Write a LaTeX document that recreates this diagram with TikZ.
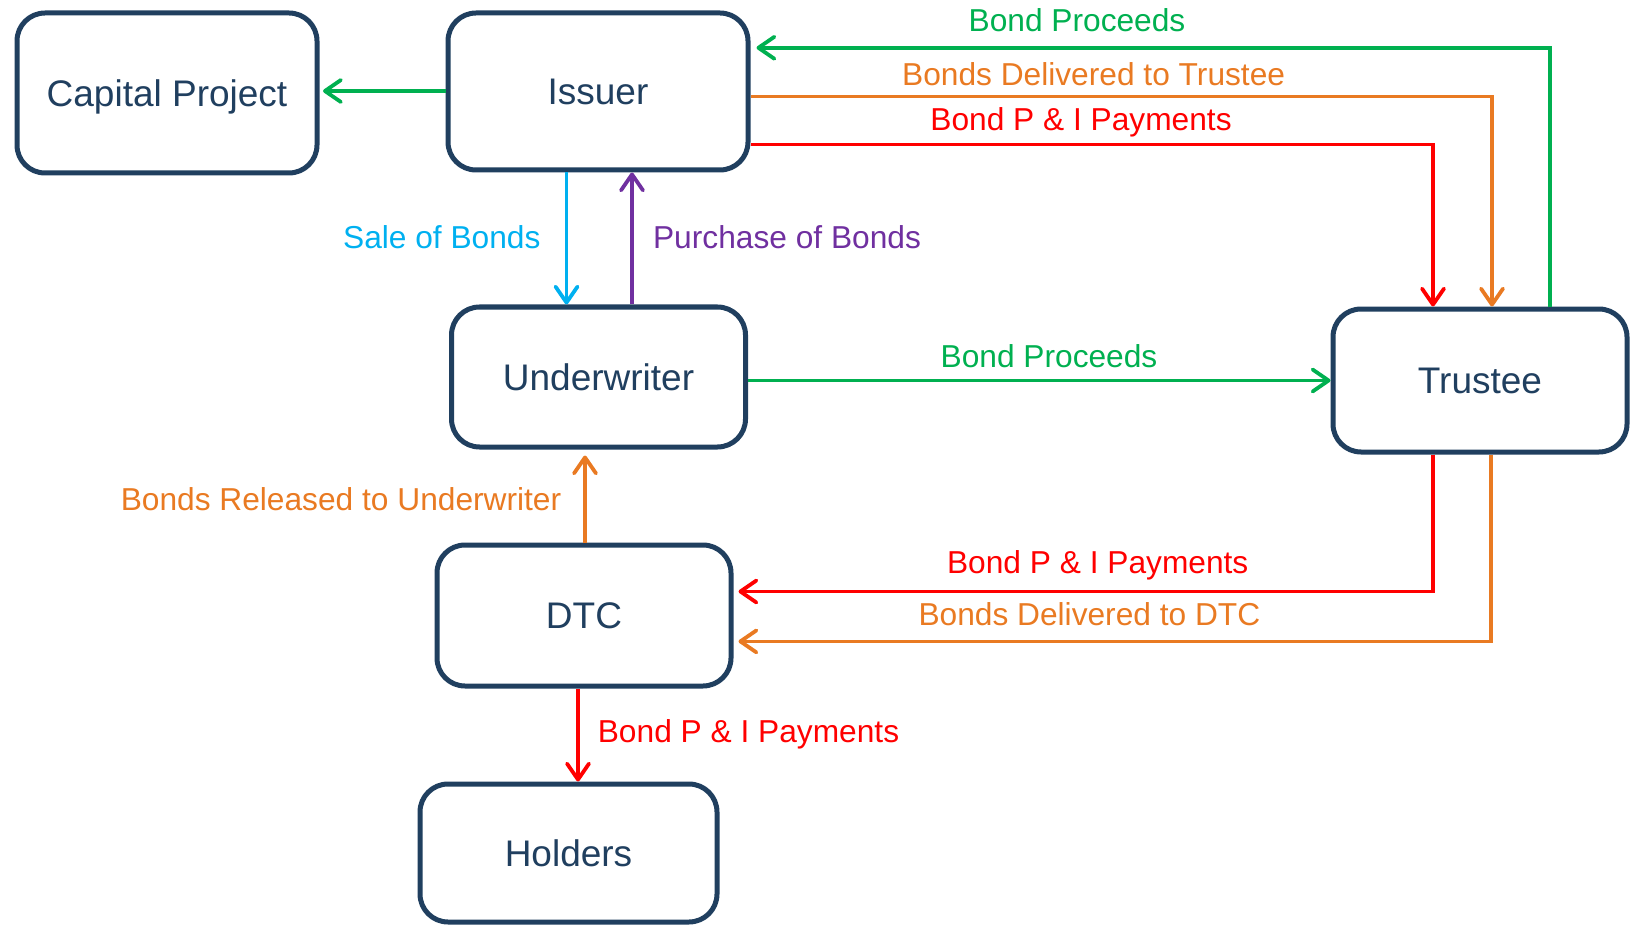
\documentclass[tikz,border=0pt]{standalone}
\usepackage{fontspec}
\setmainfont{Liberation Sans}
\usetikzlibrary{arrows.meta}
\definecolor{navy}{HTML}{203F5F}
\definecolor{cgreen}{HTML}{00B050}
\definecolor{corange}{HTML}{E97A22}
\definecolor{cred}{HTML}{FF0000}
\definecolor{ccyan}{HTML}{00B0F0}
\definecolor{cpurple}{HTML}{7030A0}
\begin{document}
\begin{tikzpicture}[x=1pt,y=-1pt,
  box/.style={draw=navy, line width=5pt, rounded corners=28pt, fill=white, text=navy,
    font=\fontsize{37}{44}\selectfont, text height=26.5pt, text depth=0pt, inner sep=0pt},
  conn/.style={line width=3.8pt, -{Straight Barb[length=16pt,width=22pt,round]}},
  lbl/.style={anchor=base, inner sep=0pt, font=\fontsize{31.7}{38}\selectfont},
]
\useasboundingbox (0,0) rectangle (1630,925);

% boxes
\node[box, minimum width=300pt, minimum height=160pt] (cp) at (167,93) {Capital Project};
\node[box, minimum width=300pt, minimum height=157pt] (issuer) at (598,91.5) {Issuer};
\node[box, minimum width=294pt, minimum height=140pt] (uw) at (598.5,377) {Underwriter};
\node[box, minimum width=294pt, minimum height=143pt] (trustee) at (1480,380.5) {Trustee};
\node[box, minimum width=294pt, minimum height=141pt] (dtc) at (584,615.5) {DTC};
\node[box, minimum width=297pt, minimum height=138pt] (holders) at (568.5,853) {Holders};

% helper coordinates
\coordinate (xg) at (1550,0);
\coordinate (xo) at (1492,0);
\coordinate (xr) at (1433,0);
\coordinate (xob) at (1491,0);
\coordinate (yg) at (0,47.8);
\coordinate (yo) at (0,96.5);
\coordinate (yr) at (0,144.5);
\coordinate (ycp) at (0,91);
\coordinate (xc) at (566.5,0);
\coordinate (xp) at (632,0);
\coordinate (yut) at (0,380.5);
\coordinate (xou) at (585,0);
\coordinate (yrd) at (0,591.5);
\coordinate (yod) at (0,641.4);
\coordinate (xh) at (578,0);

% connectors
\draw[conn, cgreen, shorten >=3.5pt] (issuer.west |- ycp) -- (cp.east |- ycp);
\draw[conn, cgreen, shorten >=6pt] (trustee.north -| xg) |- (issuer.east |- yg);
\draw[conn, corange] (issuer.east |- yo) -| (trustee.north -| xo);
\draw[conn, cred] (issuer.east |- yr) -| (trustee.north -| xr);
\draw[conn, ccyan] (issuer.south -| xc) -- (uw.north -| xc);
\draw[conn, cpurple] (uw.north -| xp) -- (issuer.south -| xp);
\draw[conn, cgreen] (uw.east |- yut) -- (trustee.west |- yut);
\draw[conn, corange, shorten >=6pt] (dtc.north -| xou) -- (uw.south -| xou);
\draw[conn, cred, shorten >=5pt] (trustee.south -| xr) |- (dtc.east |- yrd);
\draw[conn, corange, shorten >=5pt] (trustee.south -| xob) |- (dtc.east |- yod);
\draw[conn, cred] (dtc.south -| xh) -- (holders.north -| xh);

% labels
\node[lbl, text=cgreen] (l1) at (1077,32) {Bond Proceeds};
\node[lbl, text=corange] (l2) at (1093.6,86) {Bonds Delivered to Trustee};
\node[lbl, text=cred] (l3) at (1081,131) {Bond P \& I Payments};
\node[lbl, text=ccyan] (l4) at (441.8,249) {Sale of Bonds};
\node[lbl, text=cpurple] (l5) at (787,249) {Purchase of Bonds};
\node[lbl, text=cgreen] (l6) at (1049,367.5) {Bond Proceeds};
\node[lbl, text=corange] (l7) at (341,510) {Bonds Released to Underwriter};
\node[lbl, text=cred] (l8) at (1097.7,573.5) {Bond P \& I Payments};
\node[lbl, text=corange] (l9) at (1089.4,625.5) {Bonds Delivered to DTC};
\node[lbl, text=cred] (l10) at (748.5,742) {Bond P \& I Payments};
\end{tikzpicture}
\end{document}
